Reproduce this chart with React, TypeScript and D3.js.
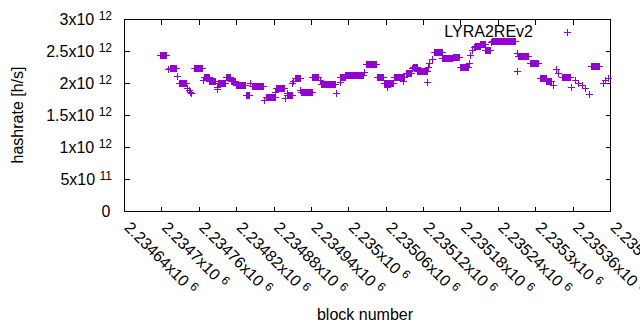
import { useEffect, useRef } from "react";
import * as d3 from "d3";

// runs of consecutive blocks sharing one hashrate estimate: first block, last block, h/s
const runFirst = [
  2234698, 2234711, 2234714, 2234725, 2234729, 2234741, 2234744, 2234746, 2234748, 2234752,
  2234766, 2234768, 2234777, 2234789, 2234790, 2234791, 2234803, 2234811, 2234819, 2234836,
  2234843, 2234845, 2234865, 2234868, 2234883, 2234884, 2234899, 2234901, 2234902, 2234910,
  2234911, 2234914, 2234923, 2234924, 2234942, 2234955, 2234956, 2234980, 2234986, 2234987,
  2234995, 2235025, 2235028, 2235046, 2235057, 2235062, 2235073, 2235088, 2235092, 2235102,
  2235104, 2235111, 2235127, 2235128, 2235130, 2235134, 2235138, 2235151, 2235168, 2235180,
  2235193, 2235195, 2235198, 2235201, 2235203, 2235212, 2235220, 2235229, 2235231, 2235270,
  2235271, 2235273, 2235292, 2235307, 2235318, 2235329, 2235334, 2235337, 2235343, 2235357,
  2235364, 2235369, 2235375, 2235380, 2235387, 2235389, 2235408, 2235412, 2235417,
];
const runLast = [
  2234707, 2234711, 2234723, 2234725, 2234740, 2234741, 2234744, 2234746, 2234748, 2234765,
  2234766, 2234776, 2234786, 2234789, 2234790, 2234802, 2234810, 2234818, 2234834, 2234841,
  2234843, 2234863, 2234865, 2234882, 2234883, 2234897, 2234899, 2234901, 2234909, 2234910,
  2234911, 2234922, 2234923, 2234941, 2234951, 2234955, 2234978, 2234980, 2234986, 2234994,
  2235024, 2235025, 2235045, 2235056, 2235072, 2235062, 2235090, 2235088, 2235100, 2235102,
  2235110, 2235126, 2235127, 2235128, 2235130, 2235134, 2235150, 2235167, 2235178, 2235192,
  2235193, 2235195, 2235198, 2235201, 2235211, 2235219, 2235228, 2235229, 2235268, 2235270,
  2235271, 2235288, 2235305, 2235317, 2235326, 2235329, 2235334, 2235337, 2235355, 2235357,
  2235364, 2235369, 2235375, 2235380, 2235387, 2235403, 2235408, 2235412, 2235417,
];
const runHashrate = [
  2.43e12, 2.219e12, 2.242e12, 2.109e12, 1.995e12, 1.922e12, 1.891e12, 1.867e12, 1.836e12, 2.23e12,
  2.047e12, 2.086e12, 2.031e12, 1.938e12, 1.906e12, 2.0e12, 2.098e12, 2.027e12, 1.969e12, 1.805e12,
  1.995e12, 1.948e12, 1.734e12, 1.777e12, 1.864e12, 1.917e12, 1.761e12, 1.839e12, 1.813e12, 1.995e12,
  2.039e12, 2.073e12, 1.891e12, 1.867e12, 2.098e12, 2.047e12, 1.98e12, 1.839e12, 2.02e12, 2.089e12,
  2.12e12, 2.177e12, 2.292e12, 2.094e12, 2.0e12, 1.942e12, 2.094e12, 2.031e12, 2.152e12, 2.234e12,
  2.25e12, 2.18e12, 2.011e12, 2.25e12, 2.32e12, 2.375e12, 2.489e12, 2.383e12, 2.414e12, 2.25e12,
  2.308e12, 2.438e12, 2.516e12, 2.567e12, 2.583e12, 2.614e12, 2.52e12, 2.648e12, 2.664e12, 2.188e12,
  2.464e12, 2.427e12, 2.308e12, 2.073e12, 2.034e12, 1.969e12, 2.214e12, 2.152e12, 2.098e12, 1.933e12,
  2.047e12, 2.005e12, 1.969e12, 1.917e12, 1.828e12, 2.266e12, 1.995e12, 2.047e12, 2.073e12,
];

const xTicks = [
  2234640, 2234700, 2234760, 2234820, 2234880, 2234940, 2235000,
  2235060, 2235120, 2235180, 2235240, 2235300, 2235360, 2235420,
];
const yTicks = [0, 5e11, 1e12, 1.5e12, 2e12, 2.5e12, 3e12];
const seriesName = "LYRA2REv2";
const color = "#9400d3";

// split into mantissa and power of ten, gnuplot style "2.5x10^12"
function sci(v: number) {
  if (v === 0) return null;
  const e = Math.floor(Math.log10(v) + 1e-9);
  const m = parseFloat((v / Math.pow(10, e)).toPrecision(6));
  return { m: String(m), e: String(e) };
}

function App() {
  const ref = useRef<SVGSVGElement>(null);

  useEffect(() => {
    const svg = d3.select(ref.current);
    svg.selectAll("*").remove();

    const left = 124.5, right = 610.5, top = 19.5, bottom = 211.5;
    const x = d3.scaleLinear().domain([xTicks[0], xTicks[xTicks.length - 1]]).range([left, right]);
    const y = d3.scaleLinear().domain([0, 3e12]).range([bottom, top]);

    const font = "'Liberation Sans', Arial, sans-serif";
    const axes = svg.append("g").attr("stroke", "#000").attr("shape-rendering", "crispEdges");

    // ticks on all four sides, pointing inward
    yTicks.forEach(t => {
      axes.append("line").attr("x1", left).attr("x2", left + 5).attr("y1", y(t)).attr("y2", y(t));
      axes.append("line").attr("x1", right).attr("x2", right - 5).attr("y1", y(t)).attr("y2", y(t));
    });
    xTicks.forEach(t => {
      axes.append("line").attr("x1", x(t)).attr("x2", x(t)).attr("y1", bottom).attr("y2", bottom - 5);
      axes.append("line").attr("x1", x(t)).attr("x2", x(t)).attr("y1", top).attr("y2", top + 5);
    });
    axes.append("rect")
      .attr("x", left).attr("y", top)
      .attr("width", right - left).attr("height", bottom - top)
      .attr("fill", "none");

    // y tick labels
    yTicks.forEach(t => {
      const s = sci(t);
      const txt = svg.append("text")
        .attr("x", 112).attr("y", y(t) + 5.5)
        .attr("text-anchor", "end")
        .attr("font-family", font).attr("font-size", 16).attr("fill", "#000");
      if (!s) { txt.attr("x", 110.5).text("0"); return; }
      txt.append("tspan").text(s.m + "x10 ");
      txt.append("tspan").attr("font-size", 12).attr("dy", -5).text(s.e);
    });

    // x tick labels, rotated
    xTicks.forEach(t => {
      const s = sci(t)!;
      const txt = svg.append("text")
        .attr("transform", `translate(${x(t) - 1},228.5) rotate(45)`)
        .attr("font-family", font).attr("font-size", 16).attr("fill", "#000");
      txt.append("tspan").text(s.m + "x10 ");
      txt.append("tspan").attr("font-size", 12).attr("dy", -5).text(s.e);
    });

    svg.append("text")
      .attr("x", 365).attr("y", 320)
      .attr("text-anchor", "middle")
      .attr("font-family", font).attr("font-size", 16)
      .text("block number");

    svg.append("text")
      .attr("transform", "translate(22.5,115) rotate(-90)")
      .attr("text-anchor", "middle")
      .attr("font-family", font).attr("font-size", 16)
      .text("hashrate [h/s]");

    // the points: one "+" per block, runs of equal value merge into a bar
    const pts = svg.append("g").attr("fill", color).attr("stroke", color).attr("shape-rendering", "crispEdges");
    runFirst.forEach((b0, i) => {
      const x0 = x(b0), x1 = x(runLast[i]), yy = y(runHashrate[i]);
      pts.append("rect")
        .attr("x", x0 - 0.5).attr("y", yy - 3.5)
        .attr("width", x1 - x0 + 1).attr("height", 7)
        .attr("stroke", "none");
      pts.append("line")
        .attr("x1", x0 - 3.5).attr("x2", x1 + 3.5)
        .attr("y1", yy).attr("y2", yy);
    });

    // key
    svg.append("text")
      .attr("x", 533).attr("y", 37)
      .attr("text-anchor", "end")
      .attr("font-family", font).attr("font-size", 16)
      .text(seriesName);
    const kx = 567.5, ky = 32.5;
    const key = svg.append("g").attr("stroke", color).attr("shape-rendering", "crispEdges");
    key.append("line").attr("x1", kx - 3.5).attr("x2", kx + 3.5).attr("y1", ky).attr("y2", ky);
    key.append("line").attr("x1", kx).attr("x2", kx).attr("y1", ky - 3.5).attr("y2", ky + 3.5);
  }, []);

  return (
    <svg
      ref={ref}
      width={640}
      height={330}
      style={{ position: "absolute", left: 0, top: 0, background: "#fff" }}
    />
  );
}

export default App;
